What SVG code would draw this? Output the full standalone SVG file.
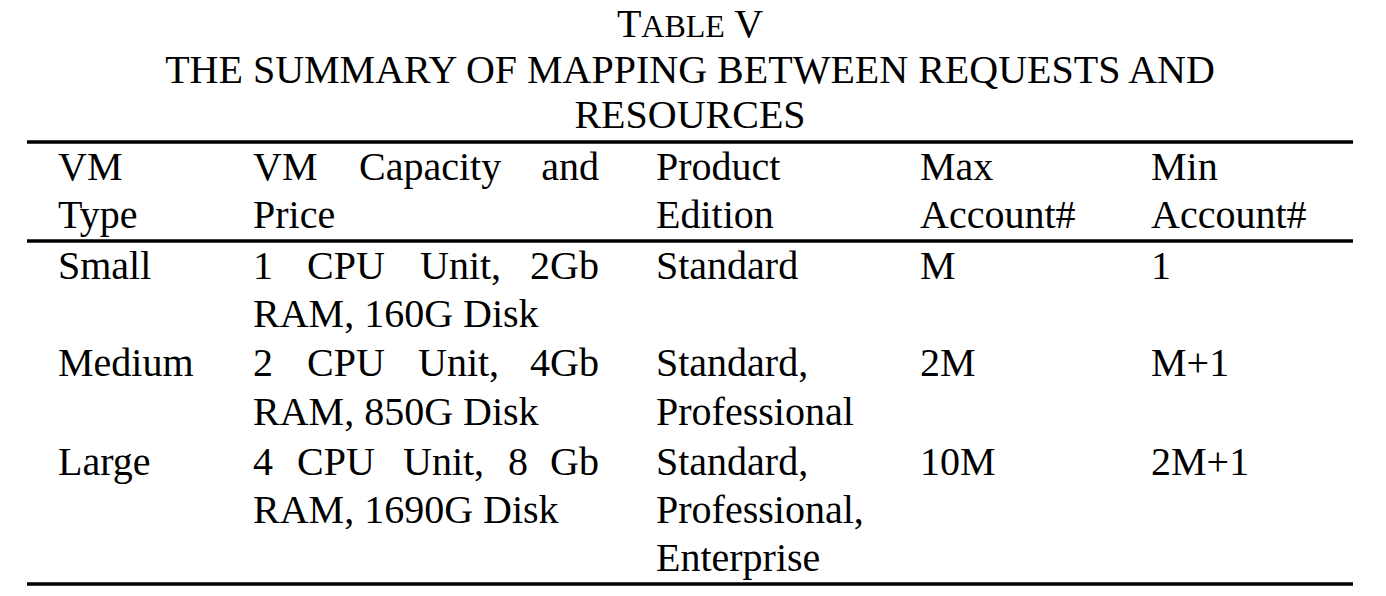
<svg xmlns="http://www.w3.org/2000/svg" width="1386" height="596" viewBox="0 0 1386 596">
<style>
text { font-family: "Liberation Serif", "Times New Roman", serif; font-size: 40px; fill: #000; }
.c { text-anchor: middle; }
.e { text-anchor: end; }
.rule { stroke: #000; stroke-width: 3.5; }
</style>
<rect width="1386" height="596" fill="#fff"/>
<g id="title">
<text class="c" x="690" y="37">T<tspan font-size="32">ABLE</tspan> V</text>
<text class="c" x="690" y="83">THE SUMMARY OF MAPPING BETWEEN REQUESTS AND</text>
<text class="c" x="690" y="128">RESOURCES</text>
</g>
<g id="rules">
<line class="rule" x1="27" y1="142" x2="1353" y2="142"/>
<line class="rule" x1="27" y1="241" x2="1353" y2="241"/>
<line class="rule" x1="27" y1="584" x2="1353" y2="584"/>
</g>
<g id="header">
<text x="58" y="180">VM</text>
<text x="58" y="228">Type</text>
<text x="253" y="180">VM</text>
<text x="359" y="180">Capacity</text>
<text class="e" x="599" y="180">and</text>
<text x="253" y="228">Price</text>
<text x="656" y="180">Product</text>
<text x="656" y="228">Edition</text>
<text x="920" y="180">Max</text>
<text x="920" y="228">Account#</text>
<text x="1151" y="180">Min</text>
<text x="1151" y="228">Account#</text>
</g>
<g id="row-small">
<text x="58" y="279">Small</text>
<text x="253" y="279">1</text>
<text x="307" y="279">CPU</text>
<text x="420" y="279">Unit,</text>
<text class="e" x="599" y="279">2Gb</text>
<text x="253" y="327">RAM, 160G Disk</text>
<text x="656" y="279">Standard</text>
<text x="920" y="279">M</text>
<text x="1151" y="279">1</text>
</g>
<g id="row-medium">
<text x="58" y="376">Medium</text>
<text x="253" y="376">2</text>
<text x="307" y="376">CPU</text>
<text x="418" y="376">Unit,</text>
<text class="e" x="599" y="376">4Gb</text>
<text x="253" y="425">RAM, 850G Disk</text>
<text x="656" y="376">Standard,</text>
<text x="656" y="425">Professional</text>
<text x="920" y="376">2M</text>
<text x="1151" y="376">M+1</text>
</g>
<g id="row-large">
<text x="58" y="475">Large</text>
<text x="253" y="475">4</text>
<text x="297" y="475">CPU</text>
<text x="403" y="475">Unit,</text>
<text x="508" y="475">8</text>
<text class="e" x="599" y="475">Gb</text>
<text x="253" y="523">RAM, 1690G Disk</text>
<text x="656" y="475">Standard,</text>
<text x="656" y="523">Professional,</text>
<text x="656" y="571">Enterprise</text>
<text x="920" y="475">10M</text>
<text x="1151" y="475">2M+1</text>
</g>
</svg>
